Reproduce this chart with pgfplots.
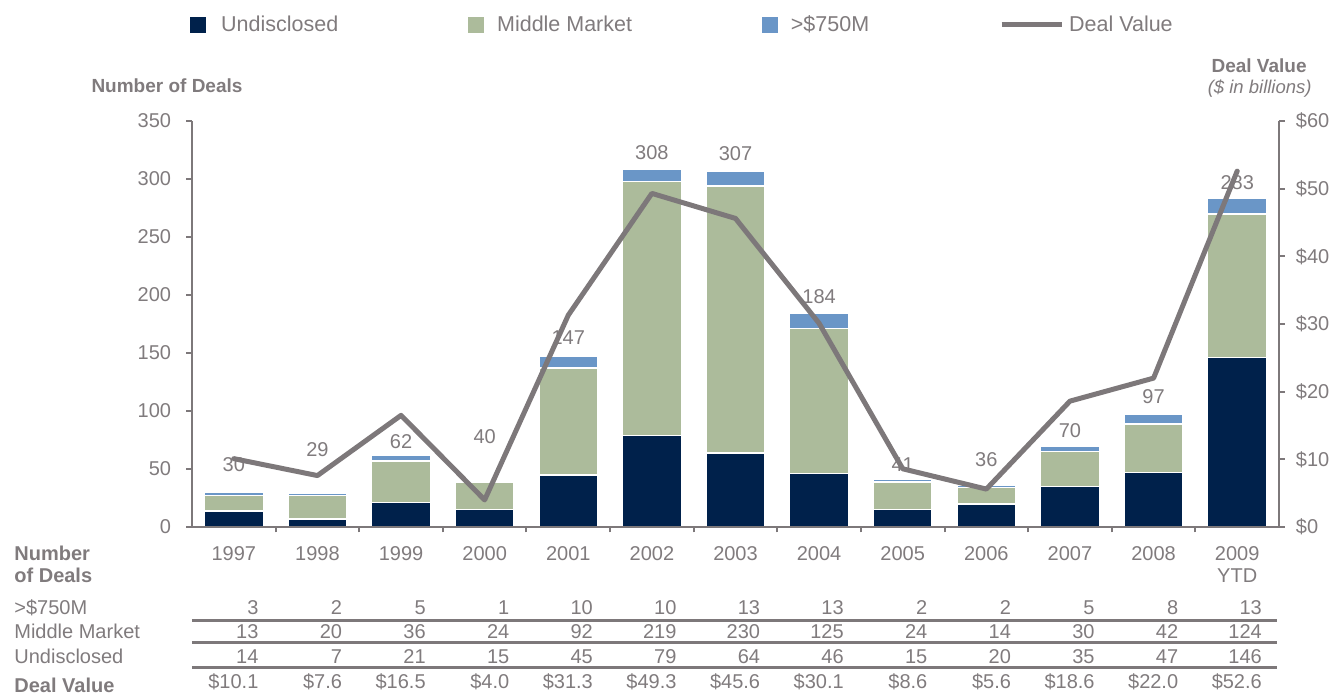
\documentclass[border=0pt]{standalone}
\usepackage{fontspec}
\setmainfont{Liberation Sans}
\usepackage{pgfplots}
\usepackage{pgfplotstable}
\pgfplotsset{compat=1.18}

\definecolor{navy}{RGB}{0,33,75}
\definecolor{sage}{RGB}{172,187,155}
\definecolor{lblue}{RGB}{106,150,199}
\definecolor{lgray}{RGB}{125,120,122}
\definecolor{txt}{RGB}{128,123,125}

\pgfplotstableread{
x year und mid big total ly dv
0 1997 14 13 3 30 53.4 10.1
1 1998 7 20 2 29 66.4 7.6
2 1999 21 36 5 62 74 16.5
3 2000 15 24 1 40 77.6 4.0
4 2001 45 92 10 147 163 31.3
5 2002 79 219 10 308 323 49.3
6 2003 64 230 13 307 321.5 45.6
7 2004 46 125 13 184 199 30.1
8 2005 15 24 2 41 53.4 8.6
9 2006 20 14 2 36 57.8 5.6
10 2007 35 30 5 70 82.8 18.6
11 2008 47 42 8 97 112 22.0
12 2009 146 124 13 283 296.5 52.6
}\data

\pgfplotsset{
  myaxis/.style={
    scale only axis, width=543.5pt, height=203pt,
    xmin=-0.5, xmax=12.5, clip=false,
    /pgf/number format/assume math mode=true,
    every tick label/.append style={font=\fontsize{10}{11}\selectfont, text=txt},
    axis line style={-, draw=lgray, line width=1pt},
    tick style={lgray, line width=1pt},
    tick align=outside, major tick length=2.75pt,
  },
}

\begin{document}
\begin{tikzpicture}
\useasboundingbox (-96pt,-84pt) rectangle (571pt,263.5pt);

% bars
\begin{axis}[myaxis, axis on top,
  ybar stacked, bar width=29.5pt,
  ymin=0, ymax=350, ytick={0,50,...,350},
  axis y line*=left, axis x line*=bottom,
  xtick={0.5,1.5,...,11.5}, xticklabels={},
  extra x ticks={0,...,12},
  extra x tick labels={1997,1998,1999,2000,2001,2002,2003,2004,2005,2006,2007,2008,{2009\\YTD}},
  extra x tick style={major tick length=0pt},
  xticklabel style={align=center, anchor=north, inner sep=0pt, yshift=-9.5pt},
  yticklabel style={anchor=east, inner sep=0pt, xshift=-7.5pt},
]
\addplot[fill=navy, draw=white, line width=0.75pt] table[x=x, y=und]{\data};
\addplot[fill=sage, draw=white, line width=0.75pt] table[x=x, y=mid]{\data};
\addplot[fill=lblue, draw=white, line width=0.75pt] table[x=x, y=big]{\data};
\end{axis}

% annotations: totals and table rows
\begin{axis}[myaxis, ymin=0, ymax=350, hide axis,
  every node near coord/.append style={font=\fontsize{10}{11}\selectfont, text=txt, inner sep=0pt}]
\addplot[draw=none, mark=none, nodes near coords, point meta=explicit,
  nodes near coords style={anchor=center}]
  table[x=x, y=ly, meta=total]{\data};
\addplot[draw=none, mark=none, nodes near coords, point meta=explicit,
  nodes near coords style={anchor=base east, xshift=12.5pt, yshift=-43.6pt}]
  table[x=x, y expr=0, meta=big]{\data};
\addplot[draw=none, mark=none, nodes near coords, point meta=explicit,
  nodes near coords style={anchor=base east, xshift=12.5pt, yshift=-55.6pt}]
  table[x=x, y expr=0, meta=mid]{\data};
\addplot[draw=none, mark=none, nodes near coords, point meta=explicit,
  nodes near coords style={anchor=base east, xshift=12.5pt, yshift=-68.45pt}]
  table[x=x, y expr=0, meta=und]{\data};
\addplot[draw=none, mark=none, point meta=explicit,
  nodes near coords={\$\pgfmathprintnumber[fixed,fixed zerofill,precision=1]{\pgfplotspointmeta}},
  nodes near coords style={anchor=base east, xshift=12.5pt, yshift=-80.95pt}]
  table[x=x, y expr=0, meta=dv]{\data};
\end{axis}

% deal value line, right axis, legend
\begin{axis}[myaxis,
  ymin=0, ymax=60, ytick={0,10,...,60},
  axis y line*=right, axis x line=none,
  yticklabel={\$\pgfmathprintnumber{\tick}},
  yticklabel style={anchor=west, inner sep=0pt, xshift=5.5pt},
  legend columns=4,
  legend style={draw=none, fill=none, inner sep=0pt,
    at={(axis description cs:0,1)}, anchor=west, xshift=-1pt, yshift=48pt,
    font=\fontsize{10.75}{12}\selectfont, text=txt,
    /tikz/every even column/.append style={column sep=65pt},
    nodes={inner sep=0pt}},
]
\addlegendimage{legend image code/.code={\fill[navy] (0pt,-3.75pt) rectangle (7.5pt,3.75pt); \path (15pt,0pt);}}
\addlegendentry{Undisclosed}
\addlegendimage{legend image code/.code={\fill[sage] (0pt,-3.75pt) rectangle (7.5pt,3.75pt); \path (14pt,0pt);}}
\addlegendentry{Middle Market}
\addlegendimage{legend image code/.code={\fill[lblue] (0pt,-3.75pt) rectangle (7.5pt,3.75pt); \path (14pt,0pt);}}
\addlegendentry{>\$750M}
\addlegendimage{legend image code/.code={\draw[lgray, line width=2.5pt] (0pt,0pt) -- (30pt,0pt); \path (33.5pt,0pt);}}
\addlegendentry{Deal Value}
\addplot[lgray, line width=2.5pt, line join=round, line cap=round, mark=none]
  table[x=x, y=dv]{\data};
\end{axis}

% table rules
\draw[lgray, line width=1.5pt] (0pt,-47pt) -- (542.5pt,-47pt);
\draw[lgray, line width=1.5pt] (0pt,-57.85pt) -- (542.5pt,-57.85pt);
\draw[lgray, line width=1.5pt] (0pt,-70.5pt) -- (542.5pt,-70.5pt);

% text labels
\begin{scope}[every node/.style={text=txt, inner sep=0pt}]
\node[anchor=base west, font=\fontsize{10}{11}\selectfont\bfseries] at (-89pt,-16.6pt) {Number};
\node[anchor=base west, font=\fontsize{10}{11}\selectfont\bfseries] at (-89pt,-27.6pt) {of Deals};
\node[anchor=base west, font=\fontsize{10}{11}\selectfont] at (-89pt,-43.6pt) {>\$750M};
\node[anchor=base west, font=\fontsize{10}{11}\selectfont] at (-89pt,-55.6pt) {Middle Market};
\node[anchor=base west, font=\fontsize{10}{11}\selectfont] at (-89pt,-68.45pt) {Undisclosed};
\node[anchor=base west, font=\fontsize{10}{11}\selectfont\bfseries] at (-89pt,-82.6pt) {Deal Value};
\node[anchor=center, font=\fontsize{9.5}{11}\selectfont\bfseries] at (-12.5pt,220.5pt) {Number of Deals};
\node[anchor=east, font=\fontsize{9.5}{11}\selectfont\bfseries] at (557.5pt,230.5pt) {Deal Value};
\node[anchor=east, font=\fontsize{9.25}{11}\selectfont\itshape] at (560pt,219pt) {(\$ in billions)};
\end{scope}
\end{tikzpicture}
\end{document}
